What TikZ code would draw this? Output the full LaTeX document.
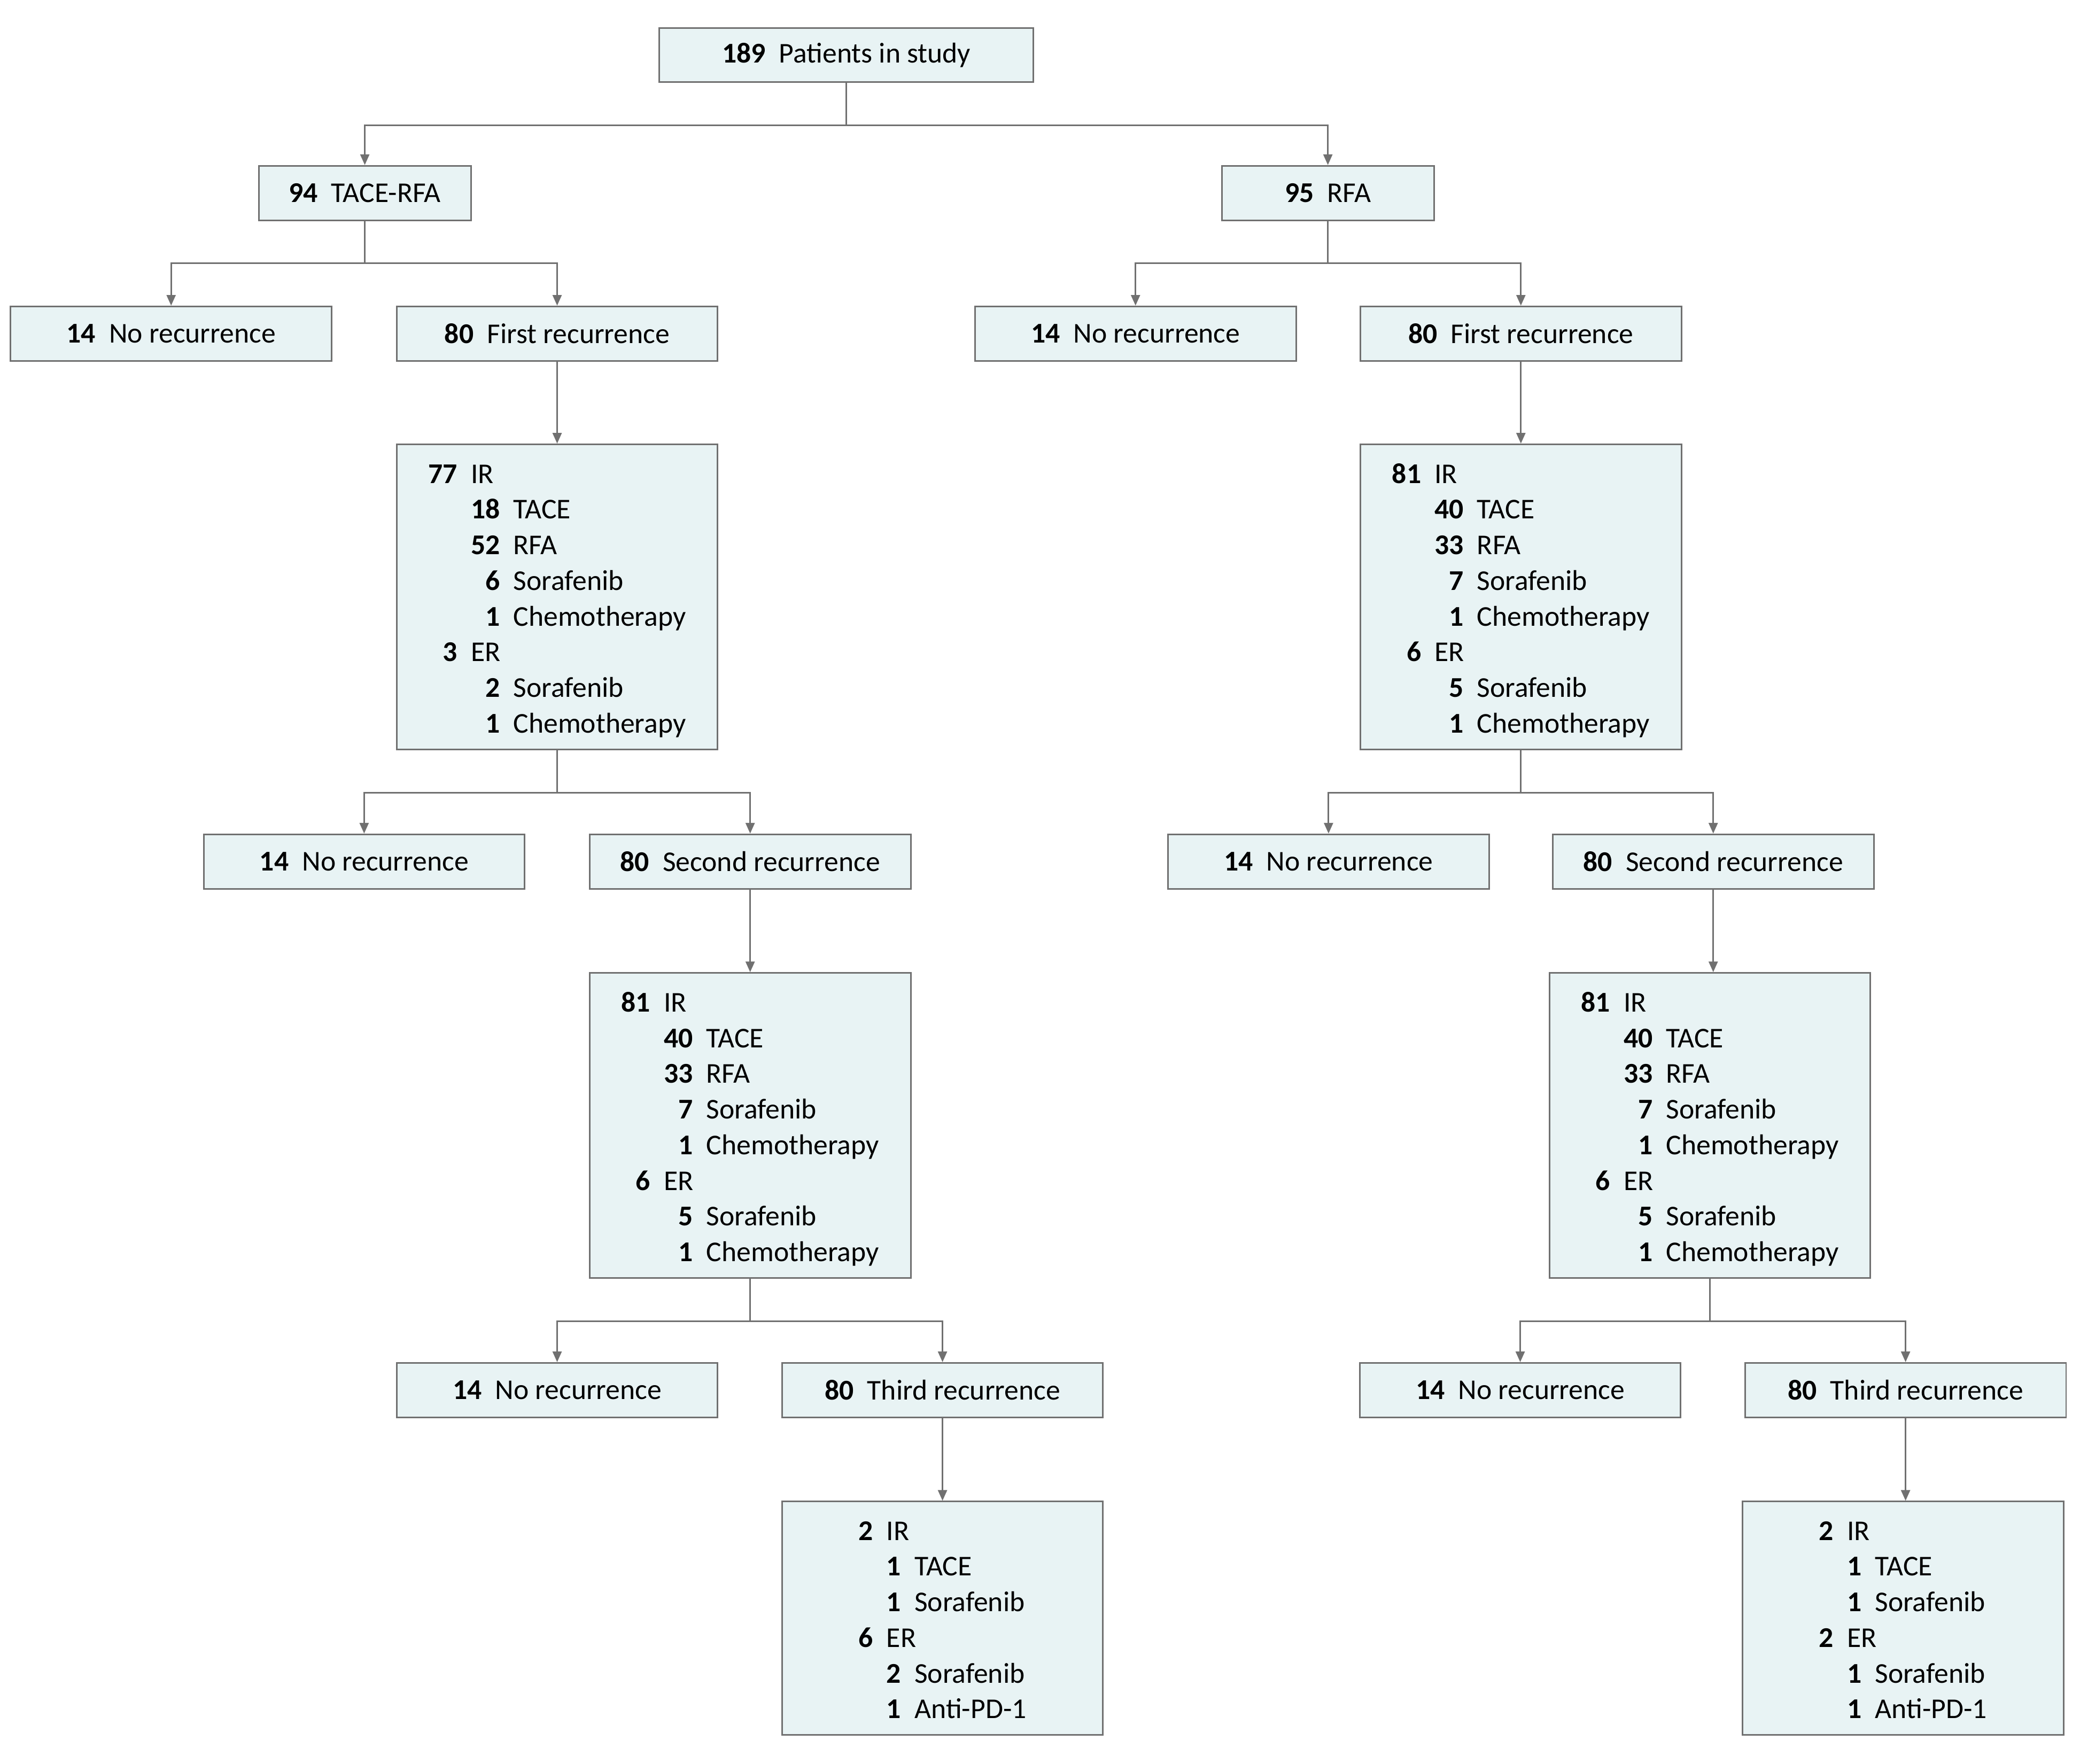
\documentclass[tikz,border=0pt]{standalone}
\usepackage{fontspec}
\setmainfont{Carlito}
\usepackage{tikz}
\usetikzlibrary{arrows.meta}

\definecolor{boxfill}{RGB}{232,243,244}
\definecolor{linegray}{RGB}{112,112,112}

\newcommand{\pcount}[2]{\textbf{#1}\hspace{0.47em}#2}
\newcommand{\lvone}[2]{\textbf{#1} & \multicolumn{2}{@{}l@{}}{#2}\\}
\newcommand{\lvtwo}[2]{& \textbf{#1} & #2\\}
\newsavebox{\txbox}
\newenvironment{txlist}
  {\begin{lrbox}{\txbox}\begin{tabular}{@{}r@{\hspace{0.47em}}r@{\hspace{0.47em}}l@{}}}
  {\end{tabular}\end{lrbox}\raisebox{-1.5pt}[\ht\txbox][\dp\txbox]{\usebox{\txbox}}}

\tikzset{
  box/.style={draw=linegray, fill=boxfill, line width=0.6pt, inner sep=0pt,
    minimum width=121pt, minimum height=20.5pt,
    font=\fontsize{10.8}{13.45}\selectfont},
  tbox/.style={box, align=left},
  conn/.style={draw=linegray, line width=0.6pt, -{Triangle[length=4pt,width=3.4pt]}},
}

\begin{document}
\begin{tikzpicture}[x=0.5pt, y=-0.5pt]
		\useasboundingbox (0,0) rectangle (1568,1329.5);
		% study
		\node[box, minimum width=141pt] (top) at (638,41.5) {\pcount{189}{Patients in study}};
		\node[box, minimum width=80pt] (a0) at (275,145.5) {\pcount{94}{TACE-RFA}};
		\node[box, minimum width=80pt] (b0) at (1001,145.5) {\pcount{95}{RFA}};
		% tace-rfa arm
		\node[box] (anr1) at (129,251.5) {\pcount{14}{No recurrence}};
		\node[box] (afr1) at (420,251.5) {\pcount{80}{First recurrence}};
		\node[tbox, minimum height=115pt] (atx1) at (420,450) {\begin{txlist}
			\lvone{77}{IR} \lvtwo{18}{TACE} \lvtwo{52}{RFA} \lvtwo{6}{Sorafenib} \lvtwo{1}{Chemotherapy}
			\lvone{3}{ER} \lvtwo{2}{Sorafenib} \lvtwo{1}{Chemotherapy}
		\end{txlist}};
		\node[box] (anr2) at (274.5,649.5) {\pcount{14}{No recurrence}};
		\node[box] (asr2) at (565.5,649.5) {\pcount{80}{Second recurrence}};
		\node[tbox, minimum height=115pt] (atx2) at (565.5,848.5) {\begin{txlist}
			\lvone{81}{IR} \lvtwo{40}{TACE} \lvtwo{33}{RFA} \lvtwo{7}{Sorafenib} \lvtwo{1}{Chemotherapy}
			\lvone{6}{ER} \lvtwo{5}{Sorafenib} \lvtwo{1}{Chemotherapy}
		\end{txlist}};
		\node[box] (anr3) at (420,1048) {\pcount{14}{No recurrence}};
		\node[box] (atr3) at (710.5,1048) {\pcount{80}{Third recurrence}};
		\node[tbox, minimum height=88pt] (atx3) at (710.5,1220) {\begin{txlist}
			\lvone{2}{IR} \lvtwo{1}{TACE} \lvtwo{1}{Sorafenib}
			\lvone{6}{ER} \lvtwo{2}{Sorafenib} \lvtwo{1}{Anti-PD-1}
		\end{txlist}};
		% rfa arm
		\node[box] (bnr1) at (856,251.5) {\pcount{14}{No recurrence}};
		\node[box] (bfr1) at (1146.5,251.5) {\pcount{80}{First recurrence}};
		\node[tbox, minimum height=115pt] (btx1) at (1146.5,450) {\begin{txlist}
			\lvone{81}{IR} \lvtwo{40}{TACE} \lvtwo{33}{RFA} \lvtwo{7}{Sorafenib} \lvtwo{1}{Chemotherapy}
			\lvone{6}{ER} \lvtwo{5}{Sorafenib} \lvtwo{1}{Chemotherapy}
		\end{txlist}};
		\node[box] (bnr2) at (1001.5,649.5) {\pcount{14}{No recurrence}};
		\node[box] (bsr2) at (1291.5,649.5) {\pcount{80}{Second recurrence}};
		\node[tbox, minimum height=115pt] (btx2) at (1289,848.5) {\begin{txlist}
			\lvone{81}{IR} \lvtwo{40}{TACE} \lvtwo{33}{RFA} \lvtwo{7}{Sorafenib} \lvtwo{1}{Chemotherapy}
			\lvone{6}{ER} \lvtwo{5}{Sorafenib} \lvtwo{1}{Chemotherapy}
		\end{txlist}};
		\node[box] (bnr3) at (1146,1048) {\pcount{14}{No recurrence}};
		\node[box] (btr3) at (1436.5,1048) {\pcount{80}{Third recurrence}};
		\node[tbox, minimum height=88pt] (btx3) at (1434.5,1220) {\begin{txlist}
			\lvone{2}{IR} \lvtwo{1}{TACE} \lvtwo{1}{Sorafenib}
			\lvone{2}{ER} \lvtwo{1}{Sorafenib} \lvtwo{1}{Anti-PD-1}
		\end{txlist}};
		% splits
		\foreach \p/\c in {top/a0, top/b0, a0/anr1, a0/afr1, b0/bnr1, b0/bfr1,
			atx1/anr2, atx1/asr2, btx1/bnr2, btx1/bsr2,
			atx2/anr3, atx2/atr3, btx2/bnr3, btx2/btr3}
			\draw[conn] (\p.south) -- ++(0,32) -| (\c.north);
		% straight down
		\foreach \p/\c in {afr1/atx1, asr2/atx2, atr3/atx3, bfr1/btx1, bsr2/btx2, btr3/btx3}
			\draw[conn] (\p.south) -- (\p.south |- \c.north);
	\end{tikzpicture}
\end{document}
